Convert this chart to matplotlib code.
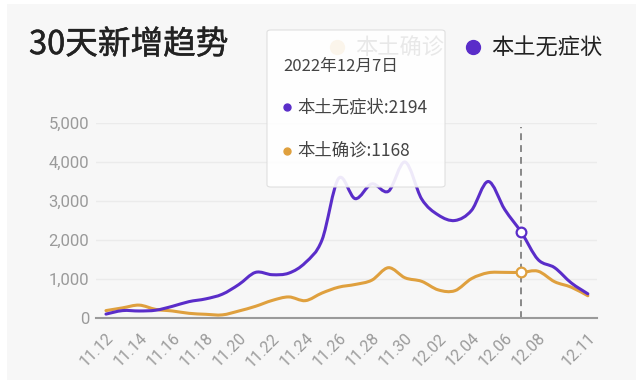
import numpy as np
import matplotlib
matplotlib.use("Agg")
import matplotlib.pyplot as plt
import matplotlib.patheffects as pe
from matplotlib.path import Path
from matplotlib.patches import PathPatch, FancyBboxPatch, Rectangle
from matplotlib.lines import Line2D

plt.rcParams['font.family'] = ['Noto Sans CJK SC', 'DejaVu Sans']

# data
days = ["11.12", "11.13", "11.14", "11.15", "11.16", "11.17", "11.18", "11.19", "11.20", "11.21",
        "11.22", "11.23", "11.24", "11.25", "11.26", "11.27", "11.28", "11.29", "11.30", "12.01",
        "12.02", "12.03", "12.04", "12.05", "12.06", "12.07", "12.08", "12.09", "12.10", "12.11"]
wuzhengzhuang = [100, 190, 180, 200, 300, 420, 490, 610, 860, 1170,
                 1110, 1150, 1420, 2000, 3580, 3060, 3440, 3250, 4000, 3050,
                 2640, 2500, 2760, 3500, 2780, 2194, 1500, 1290, 900, 620]
quezhen = [190, 260, 330, 220, 180, 120, 95, 80, 180, 300,
           450, 540, 445, 640, 790, 860, 970, 1290, 1030, 940,
           720, 700, 1010, 1160, 1170, 1168, 1200, 930, 790, 570]
tick_labels = ["11.12", "11.14", "11.16", "11.18", "11.20", "11.22", "11.24", "11.26",
               "11.28", "11.30", "12.02", "12.04", "12.06", "12.08", "12.11"]
sel_day = "12.07"

PURPLE = "#5a2dc9"
ORANGE = "#dfa03e"
W, H = 640, 380


def fx(px):
    return px / W


def fy(py):
    return 1 - py / H


def smooth_path(x, y):
    # catmull-rom -> bezier, like echarts smooth line
    n = len(x)
    verts = [(x[0], y[0])]
    codes = [Path.MOVETO]
    for i in range(n - 1):
        x0, y0 = (x[i - 1], y[i - 1]) if i > 0 else (x[i], y[i])
        x3, y3 = (x[i + 2], y[i + 2]) if i + 2 < n else (x[i + 1], y[i + 1])
        c1 = (x[i] + (x[i + 1] - x0) / 6, y[i] + (y[i + 1] - y0) / 6)
        c2 = (x[i + 1] - (x3 - x[i]) / 6, y[i + 1] - (y3 - y[i]) / 6)
        verts += [c1, c2, (x[i + 1], y[i + 1])]
        codes += [Path.CURVE4] * 3
    return Path(verts, codes)


fig = plt.figure(figsize=(6.4, 3.8), dpi=100, facecolor="white")
fig.add_artist(Rectangle((fx(7), 0), fx(629), 1 - 4 / H, transform=fig.transFigure,
                         facecolor="#f7f7f7", edgecolor="none", zorder=0))

ax = fig.add_axes([fx(96), fy(318), fx(501), (318 - 123) / H])
ax.set_facecolor("none")
ax.set_zorder(1)

x = np.arange(len(days))
ax.add_patch(PathPatch(smooth_path(x, quezhen), fill=False, edgecolor=ORANGE, lw=2.2,
                       capstyle="round", joinstyle="round", zorder=3))
ax.add_patch(PathPatch(smooth_path(x, wuzhengzhuang), fill=False, edgecolor=PURPLE, lw=2.2,
                       capstyle="round", joinstyle="round", zorder=4))

k = days.index(sel_day)
ax.vlines(k, 0, 4900, colors="#888888", lw=1.4, linestyles=(0, (3.5, 2.6)), zorder=2)
ax.plot(k, wuzhengzhuang[k], "o", ms=7, mfc="white", mec=PURPLE, mew=1.6, zorder=6)
ax.plot(k, quezhen[k], "o", ms=7, mfc="white", mec=ORANGE, mew=1.6, zorder=6)

ax.set_xlim(-0.6, len(days) - 1 + 0.55)
ax.set_ylim(0, 5000)
ax.set_yticks([0, 1000, 2000, 3000, 4000, 5000])
ax.set_yticklabels(["0", "1,000", "2,000", "3,000", "4,000", "5,000"], family="Roboto")
ax.set_xticks([days.index(t) for t in tick_labels])
ax.set_xticklabels(tick_labels, rotation=45, ha="right", rotation_mode="anchor", family="Roboto")
ax.tick_params(axis="y", length=0, pad=5, labelsize=12, labelcolor="#9a9a9a")
ax.tick_params(axis="x", length=0, pad=9, labelsize=11.5, labelcolor="#9a9a9a")
ax.grid(axis="y", color="#ebebeb", lw=1)
ax.set_axisbelow(True)
for s in ["top", "right", "left"]:
    ax.spines[s].set_visible(False)
ax.spines["bottom"].set_color("#9a9a9a")
ax.spines["bottom"].set_linewidth(1.5)

# title (regular + thin stroke to look medium)
fig.text(fx(29), fy(45), "30天新增趋势", fontsize=23.5, color="#222222", va="center", ha="left",
         path_effects=[pe.withStroke(linewidth=0.35, foreground="#222222")])

# legend
handles = [Line2D([], [], marker="o", ls="", color=ORANGE, ms=10),
           Line2D([], [], marker="o", ls="", color=PURPLE, ms=10)]
leg = fig.legend(handles, ["本土确诊", "本土无症状"], loc="center right",
                 bbox_to_anchor=(fx(622), fy(48)), ncol=2, frameon=False, fontsize=16,
                 handletextpad=0.3, columnspacing=0.8, handlelength=1.0, labelcolor="#222222")
leg.set_zorder(2)

# tooltip
fig.add_artist(FancyBboxPatch((fx(267), fy(187)), fx(178), (187 - 30) / H,
                              boxstyle="round,pad=0,rounding_size=0.006",
                              transform=fig.transFigure, facecolor="white", alpha=0.9,
                              edgecolor="#dddddd", lw=0.8, zorder=8))
fig.text(fx(283), fy(66), "2022年12月7日", fontsize=12, color="#444444", va="center", zorder=9)
fig.add_artist(Line2D([fx(287)], [fy(107)], marker="o", ms=5, color=PURPLE, ls="",
                      transform=fig.transFigure, zorder=9))
fig.text(fx(297), fy(107), "本土无症状:" + str(wuzhengzhuang[k]), fontsize=12.5, color="#444444",
         va="center", zorder=9)
fig.add_artist(Line2D([fx(287)], [fy(151)], marker="o", ms=5, color=ORANGE, ls="",
                      transform=fig.transFigure, zorder=9))
fig.text(fx(297), fy(151), "本土确诊:" + str(quezhen[k]), fontsize=12.5, color="#444444",
         va="center", zorder=9)

fig.savefig("out.png", dpi=100)
